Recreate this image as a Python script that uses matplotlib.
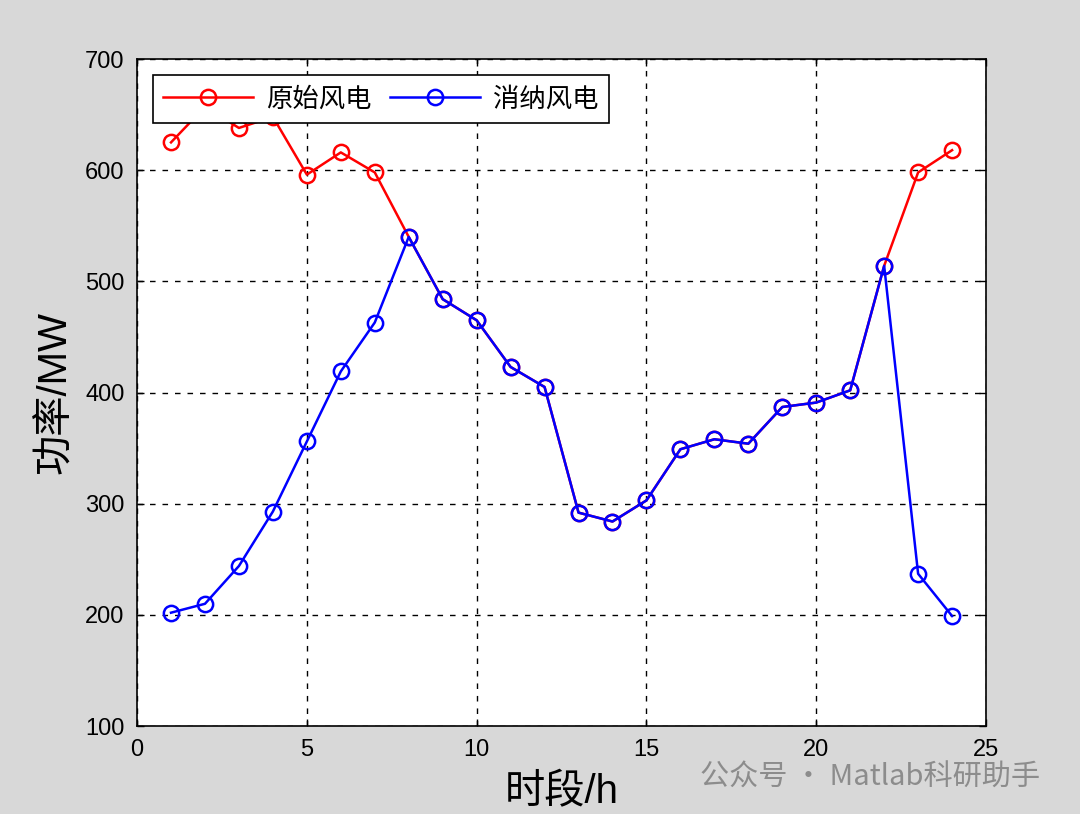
import matplotlib.pyplot as plt

plt.rcParams['font.family'] = ['Liberation Sans', 'Noto Sans CJK SC', 'DejaVu Sans']

hours = list(range(1, 25))
# 原始风电 (MW)
raw_wind = [625, 657, 638, 648, 596, 616, 598, 540, 484, 465, 423, 405,
            292, 284, 303, 349, 358, 354, 387, 391, 402, 514, 598, 618]
# 消纳风电 (MW)
used_wind = [202, 210, 244, 293, 356, 419, 463, 540, 484, 465, 423, 405,
             292, 284, 303, 349, 358, 354, 387, 391, 402, 514, 237, 199]

fig = plt.figure(figsize=(10.8, 8.14), dpi=100, facecolor='#d8d8d8')
ax = fig.add_axes([0.1269, 0.108, 0.7861, 0.8195])

ax.plot(hours, raw_wind, color='red', lw=1.8, marker='o', ms=11,
        mfc='none', mew=1.8, label='原始风电')
ax.plot(hours, used_wind, color='blue', lw=1.8, marker='o', ms=11,
        mfc='none', mew=1.8, label='消纳风电')

ax.set_xlim(0, 25)
ax.set_ylim(100, 700)
ax.set_xticks(range(0, 26, 5))
ax.set_yticks(range(100, 701, 100))
ax.tick_params(direction='in', labelsize=17, length=5, width=1, top=True, right=True)
ax.tick_params(axis='x', pad=9)
ax.tick_params(axis='y', pad=9)
ax.grid(True, color='black', linestyle=(0, (4, 5)), linewidth=1)
for s in ax.spines.values():
    s.set_linewidth(1.2)

ax.set_xlabel('时段/h', fontsize=29, labelpad=9)
ax.set_ylabel('功率/MW', fontsize=29, labelpad=8)

leg = ax.legend(loc='upper left', ncol=2, handlelength=3.4,
                fancybox=False, edgecolor='black', framealpha=1,
                borderaxespad=0.6, columnspacing=0.7, handletextpad=0.5,
                prop={'family': ['Noto Sans CJK SC'], 'size': 19})
leg.get_frame().set_linewidth(1.2)

fig.text(0.648, 0.035, '公众号 · Matlab科研助手', fontsize=21, color='#8c8c8c',
         family=['Noto Sans CJK SC', 'DejaVu Sans'])

fig.savefig('out.png', dpi=100, facecolor=fig.get_facecolor())
